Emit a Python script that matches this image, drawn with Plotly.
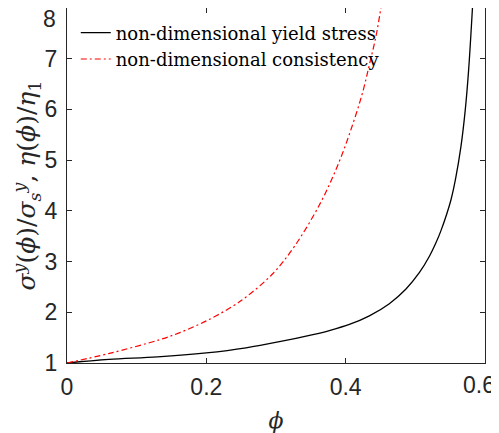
import plotly.graph_objects as go

# Non-dimensional yield stress (black solid)
phi_yield = [0, 0.06, 0.13, 0.2, 0.257, 0.305, 0.353, 0.3766, 0.4053, 0.434,
             0.4627, 0.4866, 0.5057, 0.52, 0.5296, 0.5368, 0.551, 0.558,
             0.5655, 0.5716, 0.5764, 0.582]
yield_vals = [1.0, 1.07, 1.12, 1.20, 1.30, 1.42, 1.56, 1.64, 1.76, 1.93,
              2.17, 2.46, 2.78, 3.10, 3.37, 3.61, 4.21, 4.65,
              5.27, 5.98, 6.76, 8.0]

# Non-dimensional consistency (red dash-dot)
phi_cons = [0, 0.061, 0.133, 0.162, 0.2, 0.238, 0.257, 0.2953, 0.3265, 0.3647,
            0.391, 0.41, 0.4244, 0.434, 0.4436, 0.4508]
cons_vals = [1.0, 1.19, 1.46, 1.60, 1.83, 2.12, 2.30, 2.76, 3.30, 4.18,
             4.98, 5.70, 6.34, 6.88, 7.45, 8.02]

x_ticks = [0, 0.2, 0.4, 0.6]
x_ticklabels = ["0", "0.2", "0.4", "0.6"]
y_ticks = [1, 2, 3, 4, 5, 6, 7, 8]
y_ticklabels = ["1", "2", "3", "4", "5", "6", "7", "8"]

names = ["non-dimensional yield stress", "non-dimensional consistency"]

AX = "#262626"
TICKFONT = dict(family="Liberation Sans", size=23, color=AX)

fig = go.Figure()
fig.add_trace(go.Scatter(x=phi_yield, y=yield_vals, mode="lines", name=names[0],
                         line=dict(color="black", width=1.3, shape="spline", smoothing=1.0)))
fig.add_trace(go.Scatter(x=phi_cons, y=cons_vals, mode="lines", name=names[1],
                         line=dict(color="red", width=1.2, dash="6px,3px,2px,3px",
                                   shape="spline", smoothing=1.0)))

axis_common = dict(
    ticks="inside", ticklen=5, tickcolor=AX, tickwidth=1,
    showline=True, linecolor=AX, linewidth=1, mirror="ticks",
    showgrid=False, zeroline=False, ticklabeloverflow="allow",
    automargin=False, tickfont=TICKFONT,
)

# The page body has an 8px margin, so the figure is sized to fit the window.
fig.update_layout(
    width=491, height=425,
    margin=dict(l=59, r=13.5, t=0.3, b=69.5),
    paper_bgcolor="white", plot_bgcolor="white",
    showlegend=True,
    legend=dict(x=0.021, y=0.982, xanchor="left", yanchor="top",
                bgcolor="rgba(0,0,0,0)", borderwidth=0,
                font=dict(family="DejaVu Serif", size=18, color="black"),
                tracegroupgap=0),
    xaxis=dict(range=[0, 0.6], tickvals=x_ticks,
               ticktext=x_ticklabels[:-1] + [""], ticklabelstandoff=3,
               title=dict(text="<i>ϕ</i>", standoff=14,
                          font=dict(family="DejaVu Serif", size=22, color=AX)),
               **axis_common),
    yaxis=dict(range=[1, 8], tickvals=y_ticks,
               ticktext=y_ticklabels[:-1] + [""], ticklabelstandoff=4,
               title=dict(text="<i>σ<sup>y</sup></i>(<i>ϕ</i>)/<i>σ<sub>s</sub><sup>y</sup></i>, <i>η</i>(<i>ϕ</i>)/<i>η</i><sub>1</sub>",
                          standoff=0,
                          font=dict(family="DejaVu Serif", size=25, color=AX)),
               **axis_common),
)

# Edge tick labels nudged inside the figure (as the original does)
fig.add_annotation(x=x_ticks[-1], xref="x", y=0, yref="paper",
                   text=x_ticklabels[-1], showarrow=False, font=TICKFONT,
                   xanchor="right", yanchor="top", xshift=12, yshift=-7)
fig.add_annotation(x=0, xref="paper", y=y_ticks[-1], yref="y",
                   text=y_ticklabels[-1], showarrow=False, font=TICKFONT,
                   xanchor="right", yanchor="top", xshift=-9, yshift=4)

fig.write_html("out.html")
